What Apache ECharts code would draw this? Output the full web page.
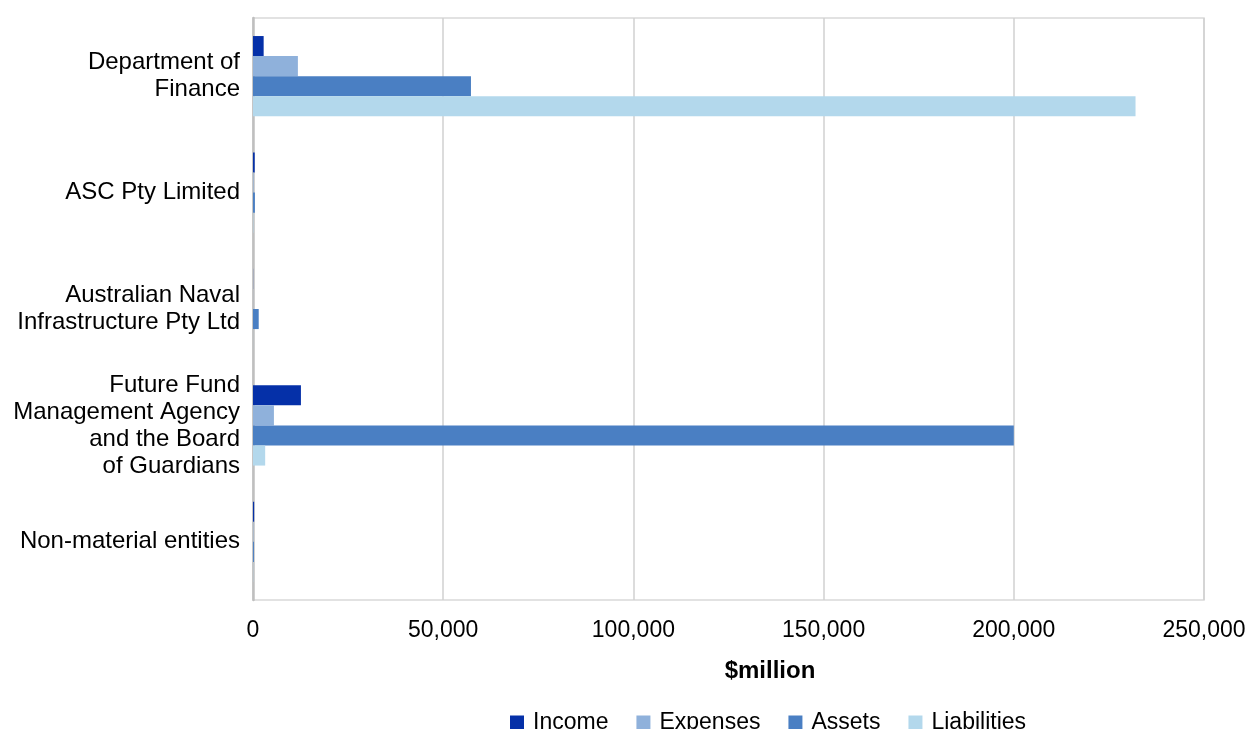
<!DOCTYPE html>
<html>
<head>
<meta charset="utf-8">
<title>Finance portfolio entities</title>
<script src="https://cdn.jsdelivr.net/npm/echarts@6/dist/echarts.min.js"></script>
<style>
  html, body { margin: 0; padding: 0; background: #ffffff; }
  #chart { width: 1249px; height: 729px; }
</style>
</head>
<body>
<div id="chart"></div>
<script>
// Entities, listed top to bottom
const categories = [
  'Department of\nFinance',
  'ASC Pty Limited',
  'Australian Naval\nInfrastructure Pty Ltd',
  'Future Fund\nManagement Agency\nand the Board\nof Guardians',
  'Non-material entities'
];

// Values in $million
const income      = [2800, 450, 30, 12600, 300];
const expenses    = [11800, 150, 20, 5500, 100];
const assets      = [57300, 500, 1500, 200000, 250];
const liabilities = [232000, 100, 20, 3200, 60];

const seriesNames = ['Income', 'Expenses', 'Assets', 'Liabilities'];
const seriesColors = ['#0530A8', '#8FB1DB', '#4A7FC3', '#B3D8EC'];

const FONT = '"Liberation Sans", Arial, sans-serif';

const chart = echarts.init(document.getElementById('chart'), null, { renderer: 'canvas' });

const fmt = v => v.toLocaleString('en-US');

chart.setOption({
  animation: false,
  textStyle: { fontFamily: FONT, color: '#000' },
  grid: {
    left: 253, right: 45, top: 18, bottom: 129,
    show: true, borderColor: '#D9D9D9', borderWidth: 1.5
  },
  legend: {
    data: seriesNames,
    left: 505, top: 706,
    itemWidth: 14, itemHeight: 14, itemGap: 28,
    icon: 'rect',
    textStyle: { fontFamily: FONT, fontSize: 23, color: '#000', padding: [0, 0, 0, 4] }
  },
  xAxis: {
    type: 'value',
    min: 0, max: 250000, interval: 50000,
    name: '$million',
    nameLocation: 'middle',
    nameGap: 59,
    nameTextStyle: { fontFamily: FONT, fontSize: 24, fontWeight: 'bold', color: '#000', padding: [0, 0, 0, 83] },
    axisLine: { show: false },
    axisTick: { show: false },
    axisLabel: { fontFamily: FONT, fontSize: 23, color: '#000', margin: 19, formatter: fmt },
    splitLine: { show: true, lineStyle: { color: '#D0D0D0', width: 1.5 } }
  },
  yAxis: {
    type: 'category',
    data: categories,
    inverse: true,
    axisLine: { show: true, lineStyle: { color: '#BFBFBF', width: 2.5 } },
    axisTick: { show: false },
    axisLabel: { fontFamily: FONT, fontSize: 24, lineHeight: 27, color: '#000', margin: 13, align: 'right' },
    splitLine: { show: false }
  },
  series: [income, expenses, assets, liabilities].map((vals, i) => ({
    name: seriesNames[i],
    type: 'bar',
    data: vals,
    barGap: '0%',
    barCategoryGap: '31%',
    itemStyle: { color: seriesColors[i] }
  }))
});
</script>
</body>
</html>
